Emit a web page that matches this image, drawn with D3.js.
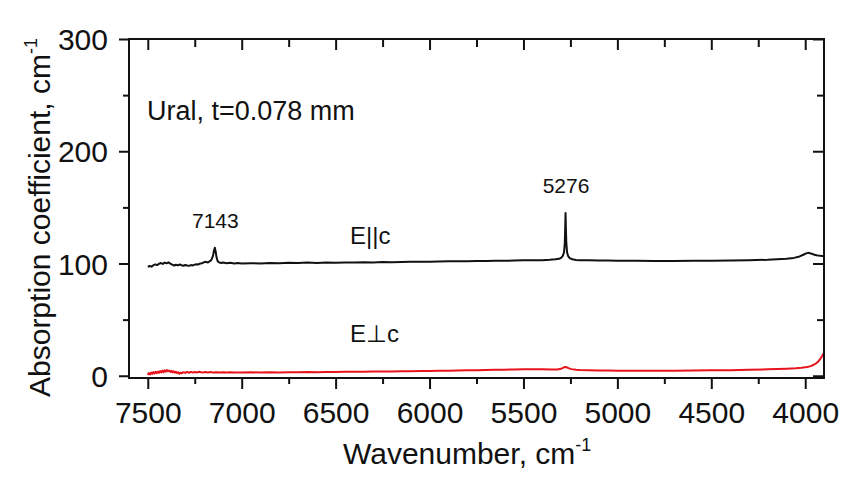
<!DOCTYPE html>
<html>
<head>
<meta charset="utf-8">
<script src="https://cdn.jsdelivr.net/npm/d3@7"></script>
<style>
  html, body { margin: 0; padding: 0; background: #fff; }
  svg { display: block; }
  text { font-family: "Liberation Sans", Arial, sans-serif; fill: #111; }
</style>
</head>
<body>
<script>
// Absorption spectrum, Ural sample, t = 0.078 mm, two polarisations.

// E||c : wavenumber (cm-1) and absorption coefficient (cm-1)
const parWave = [7500,7490,7480,7470,7460,7450,7440,7430,7420,7410,7400,7390,7380,7370,7360,7350,7340,7330,7320,7310,7300,7290,7280,7270,7260,7250,7240,7230,7220,7210,7200,7190,7180,7172,7165,7158,7152,7147,7143,7139,7134,7128,7120,7110,7100,7080,7060,7040,7020,7000,6950,6900,6850,6800,6750,6700,6650,6600,6550,6500,6450,6400,6350,6300,6250,6200,6150,6100,6050,6000,5950,5900,5850,5800,5750,5700,5650,5600,5550,5500,5450,5400,5360,5330,5310,5298,5290,5284,5280,5278,5276,5274,5272,5268,5262,5254,5240,5220,5200,5150,5100,5050,5000,4950,4900,4800,4700,4600,4500,4400,4300,4200,4150,4100,4060,4030,4010,3995,3985,3970,3955,3940,3920,3900];
const parAbs  = [97.0,97.8,97.2,98.5,99.2,98.6,99.8,100.4,99.6,100.8,100.2,101.0,99.9,99.0,98.2,98.9,98.3,99.1,98.5,98.0,98.7,98.2,97.9,98.6,98.3,99.0,99.4,99.2,100.1,100.3,101.2,101.5,100.9,101.8,102.5,104.5,107.5,112.0,114.0,111.0,105.5,102.0,101.0,100.5,100.8,100.3,100.6,100.1,100.4,100.0,100.3,100.1,100.5,100.2,100.6,100.4,100.8,100.5,100.9,100.7,101.0,100.8,101.2,101.0,101.3,101.1,101.4,101.5,101.6,101.5,101.8,101.9,102.0,102.1,102.2,102.3,102.4,102.5,102.6,102.8,102.9,103.0,103.3,103.7,104.2,105.3,107.0,110.0,118.0,130.0,145.0,131.0,119.0,110.0,106.5,104.8,103.8,103.2,103.0,102.8,102.7,102.6,102.5,102.4,102.4,102.3,102.3,102.4,102.5,102.7,103.0,103.3,103.7,104.2,105.0,106.3,107.8,109.0,109.5,109.0,108.0,107.3,106.8,106.5];

// E⊥c : wavenumber (cm-1) and absorption coefficient (cm-1)
const perpWave = [7500,7494,7488,7482,7476,7470,7464,7458,7452,7446,7440,7434,7428,7422,7416,7410,7404,7398,7392,7386,7380,7374,7368,7362,7356,7350,7344,7338,7332,7326,7320,7310,7300,7290,7280,7270,7260,7250,7240,7225,7210,7195,7180,7165,7150,7135,7120,7100,7080,7060,7040,7020,7000,6950,6900,6850,6800,6750,6700,6650,6600,6550,6500,6450,6400,6350,6300,6250,6200,6150,6100,6050,6000,5950,5900,5850,5800,5750,5700,5650,5600,5550,5500,5450,5400,5350,5320,5300,5290,5280,5270,5260,5245,5220,5200,5150,5100,5050,5000,4900,4800,4700,4600,4500,4400,4300,4200,4100,4050,4020,3990,3970,3955,3940,3930,3920,3910,3900];
const perpAbs  = [0.8,2.4,1.2,2.9,1.6,3.3,2.0,3.6,2.2,3.8,2.6,4.2,3.0,4.6,3.2,4.8,3.6,5.0,4.0,4.6,3.4,4.4,3.0,4.0,2.8,3.6,2.4,3.0,1.8,2.8,2.2,3.2,2.5,3.4,2.7,3.5,2.8,3.4,2.9,3.5,2.8,3.4,2.9,3.3,2.8,3.2,2.9,3.2,2.9,3.1,2.8,3.0,2.9,3.1,2.9,3.1,3.0,3.2,3.1,3.3,3.2,3.4,3.4,3.5,3.5,3.6,3.7,3.8,3.9,4.0,4.1,4.2,4.3,4.4,4.5,4.7,4.8,5.0,5.1,5.3,5.4,5.6,5.8,5.9,5.7,5.5,5.6,6.2,7.0,7.8,7.6,6.8,5.9,5.4,5.2,4.9,4.7,4.6,4.5,4.4,4.4,4.5,4.6,4.8,5.0,5.3,5.7,6.2,6.6,7.1,7.8,8.6,9.8,11.3,12.8,15.0,17.6,20.5];

// Axis ticks
const xMajorTicks = [7500,7000,6500,6000,5500,5000,4500,4000];
const xMinorTicks = [7250,6750,6250,5750,5250,4750,4250];
const yMajorTicks = [0,100,200,300];
const yMinorTicks = [50,150,250];

// Peak labels
const peakLabels = ["7143","5276"];
const peakWave = [7143,5276];
const peakAbs = [114,145];

const W = 847, H = 477;
const plot = { left: 129, right: 824, top: 39, bottom: 378 };

const svg = d3.select("body").append("svg").attr("width", W).attr("height", H);

const x = d3.scaleLinear().domain([7600, 3900]).range([plot.left, plot.right]);
const y = d3.scaleLinear().domain([-2, 300]).range([plot.bottom, plot.top]);

svg.append("defs").append("clipPath").attr("id", "plotClip")
  .append("rect")
  .attr("x", plot.left).attr("y", plot.top)
  .attr("width", plot.right - plot.left).attr("height", plot.bottom - plot.top);

// Spectra
const line = d3.line().x(d => x(d[0])).y(d => y(d[1]));
const parData = parWave.map((w, i) => [w, parAbs[i]]);
const perpData = perpWave.map((w, i) => [w, perpAbs[i]]);

const lines = svg.append("g").attr("clip-path", "url(#plotClip)");
lines.append("path").datum(perpData)
  .attr("d", line).attr("fill", "none")
  .attr("stroke", "#e8141c").attr("stroke-width", 2).attr("stroke-linejoin", "round");
lines.append("path").datum(parData)
  .attr("d", line).attr("fill", "none")
  .attr("stroke", "#111").attr("stroke-width", 2).attr("stroke-linejoin", "round");

// Axes: outward ticks on bottom/left, inward ticks on top/right
function styleAxis(g) {
  g.select(".domain").remove();
  g.selectAll(".tick line").attr("stroke", "#111").attr("stroke-width", 2);
}

const fmt = d3.format("d");

svg.append("g").attr("transform", `translate(0,${plot.bottom})`)
  .call(d3.axisBottom(x).tickValues(xMinorTicks).tickSize(6).tickFormat(""))
  .call(styleAxis);
const xb = svg.append("g").attr("transform", `translate(0,${plot.bottom})`)
  .call(d3.axisBottom(x).tickValues(xMajorTicks).tickSize(11).tickPadding(8).tickFormat(fmt))
  .call(styleAxis);
xb.selectAll(".tick text").attr("font-size", 30).attr("font-family", "Liberation Sans, Arial, sans-serif")
  .attr("fill", "#111").attr("y", 0).attr("dy", "1.5em").attr("dy", null).attr("y", 45);

svg.append("g").attr("transform", `translate(0,${plot.top})`)
  .call(d3.axisTop(x).tickValues(xMinorTicks).tickSize(-8).tickFormat(""))
  .call(styleAxis);
svg.append("g").attr("transform", `translate(0,${plot.top})`)
  .call(d3.axisTop(x).tickValues(xMajorTicks).tickSize(-11).tickFormat(""))
  .call(styleAxis);

svg.append("g").attr("transform", `translate(${plot.left},0)`)
  .call(d3.axisLeft(y).tickValues(yMinorTicks).tickSize(6).tickFormat(""))
  .call(styleAxis);
const yl = svg.append("g").attr("transform", `translate(${plot.left},0)`)
  .call(d3.axisLeft(y).tickValues(yMajorTicks).tickSize(10).tickPadding(11).tickFormat(fmt))
  .call(styleAxis);
yl.selectAll(".tick text").attr("font-size", 30).attr("font-family", "Liberation Sans, Arial, sans-serif")
  .attr("fill", "#111").attr("dy", "0.35em");

svg.append("g").attr("transform", `translate(${plot.right},0)`)
  .call(d3.axisRight(y).tickValues(yMinorTicks).tickSize(-7).tickFormat(""))
  .call(styleAxis);
svg.append("g").attr("transform", `translate(${plot.right},0)`)
  .call(d3.axisRight(y).tickValues(yMajorTicks).tickSize(-11).tickFormat(""))
  .call(styleAxis);

// Frame
svg.append("rect")
  .attr("x", plot.left).attr("y", plot.top)
  .attr("width", plot.right - plot.left).attr("height", plot.bottom - plot.top)
  .attr("fill", "none").attr("stroke", "#111").attr("stroke-width", 2);

// Axis titles
const xt = svg.append("text").attr("x", 343).attr("y", 464).attr("font-size", 30);
xt.append("tspan").text("Wavenumber, cm");
xt.append("tspan").attr("font-size", 18).attr("dy", -13).text("-1");

const yt = svg.append("text")
  .attr("transform", "translate(50,397) rotate(-90)")
  .attr("font-size", 30);
yt.append("tspan").text("Absorption coefficient, cm");
yt.append("tspan").attr("font-size", 18).attr("dy", -13).text("-1");

// Sample label
svg.append("text").attr("x", 147).attr("y", 120).attr("font-size", 27)
  .text("Ural, t=0.078 mm");

// Peak labels, placed above each peak
svg.selectAll(".peak").data(peakLabels).enter().append("text")
  .attr("class", "peak")
  .attr("x", (d, i) => x(peakWave[i]) + 0.5)
  .attr("y", (d, i) => y(peakAbs[i]) - 20)
  .attr("text-anchor", "middle").attr("font-size", 21)
  .text(d => d);

// Polarisation labels
svg.append("text").attr("x", 350).attr("y", 244).attr("font-size", 24).text("E||c");
svg.append("text").attr("x", 350).attr("y", 342).attr("font-size", 24).text("E⊥c");
</script>
</body>
</html>
